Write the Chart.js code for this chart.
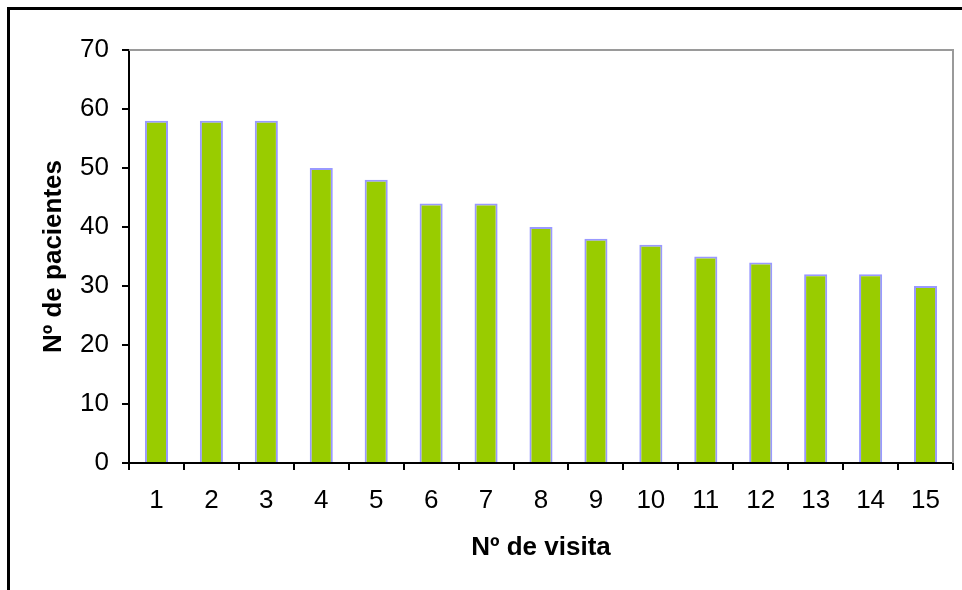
<!DOCTYPE html>
<html>
<head>
<meta charset="utf-8">
<script src="https://cdn.jsdelivr.net/npm/chart.js@4.4.1/dist/chart.umd.min.js"></script>
<style>
  html, body { margin: 0; padding: 0; background: #fff; overflow: hidden; }
  #wrap { position: relative; width: 962px; height: 590px; }
  #frame {
    position: absolute; left: 7px; top: 7px; width: 1000px; height: 700px;
    border-left: 3px solid #000; border-top: 3px solid #000;
    pointer-events: none;
  }
  canvas { position: absolute; left: 0; top: 0; }
</style>
</head>
<body>
<div id="wrap">
  <canvas id="visitas" width="962" height="590"></canvas>
  <div id="frame"></div>
</div>
<script>
// Pacientes por número de visita
const visitas = ['1', '2', '3', '4', '5', '6', '7', '8', '9', '10', '11', '12', '13', '14', '15'];
const pacientes = [58, 58, 58, 50, 48, 44, 44, 40, 38, 37, 35, 34, 32, 32, 30];
const yTicks = [0, 10, 20, 30, 40, 50, 60, 70];

const FONT = "'Liberation Sans', Arial, sans-serif";

// borde gris arriba y a la derecha del área de trazado
const plotFrame = {
    id: 'plotFrame',
    beforeDatasetsDraw(chart) {
        const a = chart.chartArea;
        const c = chart.ctx;
        c.save();
        c.strokeStyle = '#9a9a9a';
        c.lineWidth = 2;
        c.beginPath();
        c.moveTo(a.left, a.top);
        c.lineTo(a.right, a.top);
        c.lineTo(a.right, a.bottom);
        c.stroke();
        c.restore();
    }
};

new Chart(document.getElementById('visitas'), {
    type: 'bar',
    data: {
        labels: visitas,
        datasets: [{
            data: pacientes,
            backgroundColor: '#99CC00',
            borderColor: '#9999FF',
            borderWidth: 2,
            categoryPercentage: 1,
            barPercentage: 0.42
        }]
    },
    options: {
        responsive: false,
        animation: false,
        layout: { padding: { top: 50, right: 9, left: 0, bottom: 0 } },
        plugins: { legend: { display: false }, tooltip: { enabled: false } },
        scales: {
            x: {
                afterFit(s) { s.height = 127; },
                grid: { display: true, drawOnChartArea: false, color: '#000', lineWidth: 2, tickLength: 7, offset: true },
                border: { color: '#000', width: 2 },
                ticks: { color: '#000', font: { family: FONT, size: 26 }, padding: 15, maxRotation: 0 },
                title: {
                    display: true, text: 'Nº de visita', color: '#000',
                    font: { family: FONT, size: 26, weight: 'bold' }, padding: 27
                }
            },
            y: {
                min: 0,
                max: 70,
                afterFit(s) { s.width = 129; },
                afterBuildTicks(s) { s.ticks = yTicks.map(v => ({ value: v })); },
                grid: { display: true, drawOnChartArea: false, color: '#000', lineWidth: 2, tickLength: 7 },
                border: { color: '#000', width: 2 },
                ticks: { color: '#000', font: { family: FONT, size: 26 }, padding: 13 },
                title: {
                    display: true, text: 'Nº de pacientes', color: '#000',
                    font: { family: FONT, size: 26, weight: 'bold' }, padding: 38
                }
            }
        }
    },
    plugins: [plotFrame]
});
</script>
</body>
</html>
